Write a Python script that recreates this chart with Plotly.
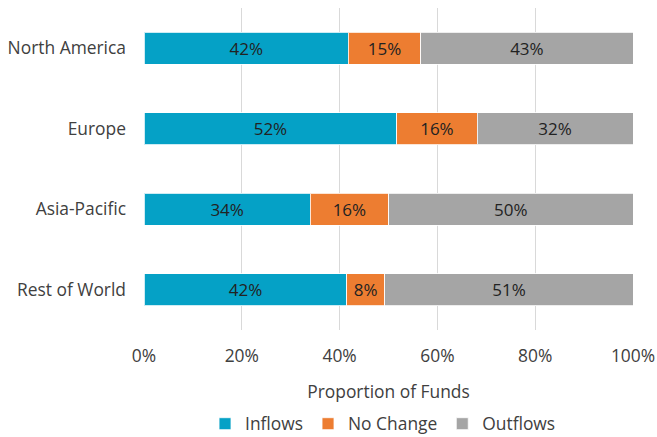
import plotly.graph_objects as go

regions = ['North America', 'Europe', 'Asia-Pacific', 'Rest of World']
inflows = [41.8, 51.7, 34.0, 41.5]
no_change = [14.8, 16.4, 16.0, 7.7]
outflows = [43.4, 31.9, 50.0, 50.9]

series = [
    ('Inflows', inflows, '#05a1c6'),
    ('No Change', no_change, '#ed7d31'),
    ('Outflows', outflows, '#a5a5a5'),
]

fig = go.Figure()
for name, vals, color in series:
    fig.add_trace(go.Bar(
        name=name,
        y=regions,
        x=vals,
        orientation='h',
        width=0.4,
        marker=dict(color=color, line=dict(color='rgba(255,255,255,0.8)', width=1)),
        texttemplate='%{x:.0f}%',
        textposition='inside',
        insidetextanchor='middle',
        textangle=0,
        textfont=dict(size=17, color='#222222'),
        hoverinfo='x+name',
    ))

fig.update_layout(
    barmode='stack',
    width=657, height=437,
    margin=dict(l=143.5, r=23.5, t=8, b=107, autoexpand=False),
    paper_bgcolor='white',
    plot_bgcolor='white',
    font=dict(family='Open Sans', size=17.4, color='#404040'),
    uniformtext=dict(minsize=17, mode='show'),
    legend=dict(
        orientation='h',
        xref='container', yref='container',
        x=0.583, xanchor='center',
        y=0.03, yanchor='middle',
        font=dict(size=17.4, color='#404040'),
        itemwidth=30,
        traceorder='normal',
    ),
    xaxis=dict(
        range=[0, 100],
        tickvals=[0, 20, 40, 60, 80, 100],
        ticktext=['0%', '20%', '40%', '60%', '80%', '100%'],
        showgrid=True,
        gridcolor='#d9d9d9',
        gridwidth=1,
        zeroline=False,
        ticklabelstandoff=14,
        title=dict(text='Proportion of Funds', standoff=19,
                   font=dict(size=17.4, color='#404040')),
    ),
    yaxis=dict(
        categoryorder='array',
        categoryarray=regions[::-1],
        showgrid=False,
        ticklabelstandoff=17,
    ),
)

# drop the default 8px body margin so the figure fills the window exactly
fig.write_html('out.html', config={'displayModeBar': False},
               post_script="document.body.style.margin = '0';")
